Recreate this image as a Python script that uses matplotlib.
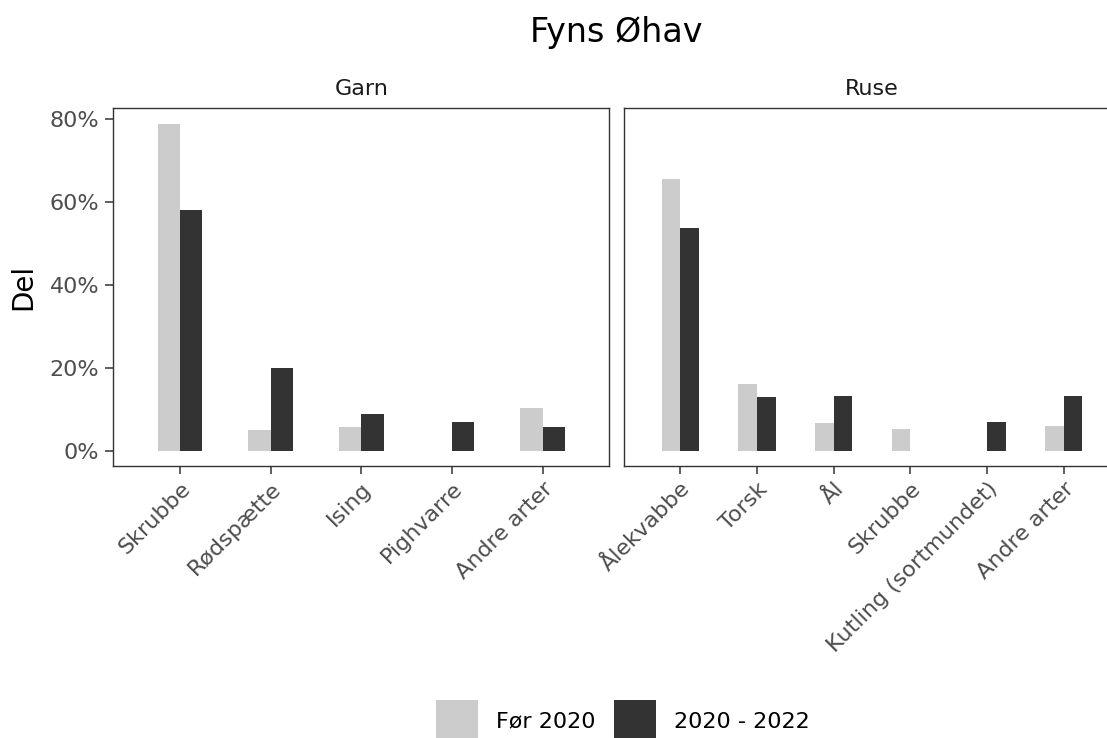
import numpy as np
import matplotlib
matplotlib.use("Agg")
import matplotlib.pyplot as plt
from matplotlib.patches import Patch
from matplotlib.transforms import ScaledTranslation

# ---- data ----
title = "Fyns Øhav"
series = ["Før 2020", "2020 - 2022"]
colors = ["#CCCCCC", "#333333"]

garn_species = ["Skrubbe", "Rødspætte", "Ising", "Pighvarre", "Andre arter"]
garn_before = [78.9, 5.0, 5.7, np.nan, 10.2]
garn_after = [58.0, 20.0, 8.9, 7.0, 5.8]

ruse_species = ["Ålekvabbe", "Torsk", "Ål", "Skrubbe", "Kutling (sortmundet)", "Andre arter"]
ruse_before = [65.7, 16.2, 6.6, 5.2, np.nan, 6.0]
ruse_after = [53.7, 13.0, 13.1, np.nan, 6.9, 13.1]

yticks = [0, 20, 40, 60, 80]
ytick_labels = ["0%", "20%", "40%", "60%", "80%"]

panels = [("Garn", garn_species, garn_before, garn_after),
          ("Ruse", ruse_species, ruse_before, ruse_after)]

# ---- figure ----
W, H = 1107, 738
fig = plt.figure(figsize=(W / 100, H / 100), dpi=100)

def fx(px):
    return px / W

def fy(py):
    return 1 - py / H

top_px, bot_px = 108, 465.7
lefts = [113.3, 624.0]
pw = 496.0
bar_w = 0.245
dark = "#333333"

axes = []
for i, (name, cats, before, after) in enumerate(panels):
    ax = fig.add_axes([fx(lefts[i]), fy(bot_px), fx(pw), (bot_px - top_px) / H])
    axes.append(ax)
    x = np.arange(1, len(cats) + 1)
    ax.bar(x - bar_w / 2, before, width=bar_w, color=colors[0], linewidth=0)
    ax.bar(x + bar_w / 2, after, width=bar_w, color=colors[1], linewidth=0)
    ax.set_xlim(1 - 0.736, len(cats) + 0.736)
    ax.set_ylim(-3.62, 82.73)
    for s in ax.spines.values():
        s.set_color(dark)
        s.set_linewidth(1.0)
    ax.set_xticks(x)
    ax.set_xticklabels(cats, rotation=45, ha="right", va="top",
                       rotation_mode="anchor", fontsize=16, color="#4D4D4D")
    ax.tick_params(axis="x", length=5.8, width=1.1, color=dark, pad=3.5)
    off = ScaledTranslation(0 / 100, 0, fig.dpi_scale_trans)
    for lab in ax.get_xticklabels():
        lab.set_transform(lab.get_transform() + off)
    if i == 0:
        ax.set_yticks(yticks)
        ax.set_yticklabels(ytick_labels, fontsize=16, color="#4D4D4D")
        ax.tick_params(axis="y", length=5.8, width=1.1, color=dark, pad=4.3)
    else:
        ax.set_yticks([])
    ax.text(0.5, 1 + (108 - 95) / (bot_px - top_px), name, transform=ax.transAxes,
            ha="center", va="baseline", fontsize=16, color="#1A1A1A")

fig.text(fx(616.5), fy(42), title, ha="center", va="baseline", fontsize=24, color="black")
fig.text(fx(23), fy(287), "Del", rotation=90, ha="center", va="center", fontsize=20, color="black")

handles = [Patch(facecolor=c, edgecolor="none") for c in colors]
leg = fig.legend(handles, series, loc="center", bbox_to_anchor=(fx(623), fy(721)),
                 ncol=2, frameon=False, fontsize=16, handlelength=1.89, handleheight=2.5,
                 handletextpad=0.8, columnspacing=0.84, borderpad=0, borderaxespad=0)

fig.savefig("out.png", dpi=100)
